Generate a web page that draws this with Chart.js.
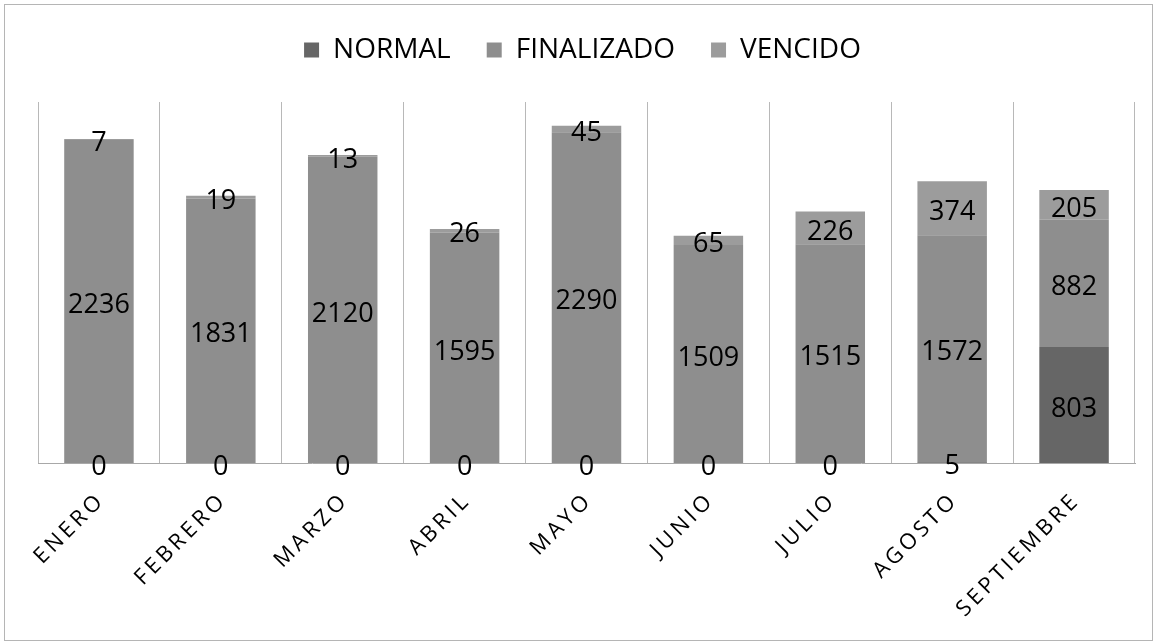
<!DOCTYPE html>
<html>
<head>
<meta charset="utf-8">
<script src="https://cdn.jsdelivr.net/npm/chart.js@4/dist/chart.umd.min.js"></script>
<style>
html,body{margin:0;padding:0;background:#fff;}
#costChart{position:absolute;left:0;top:0;}
#frame{position:absolute;left:4px;top:4px;width:1149px;height:637px;border:1px solid #b5b5b5;box-sizing:border-box;pointer-events:none;}
</style>
</head>
<body>
<canvas id="costChart" width="1159" height="644"></canvas>
<div id="frame"></div>
<script>
const months = ["ENERO","FEBRERO","MARZO","ABRIL","MAYO","JUNIO","JULIO","AGOSTO","SEPTIEMBRE"];
const normal = [0,0,0,0,0,0,0,5,803];
const finalizado = [2236,1831,2120,1595,2290,1509,1515,1572,882];
const vencido = [7,19,13,26,45,65,226,374,205];

const seriesNames = ["NORMAL","FINALIZADO","VENCIDO"];
const seriesColors = ["#666666","#8e8e8e","#9c9c9c"];

// etiquetas de valor dentro de cada segmento
const valueLabels = {
id:'valueLabels',
afterDatasetsDraw(chart){
const c = chart.ctx;
c.save();
c.font = '27px "Open Sans"';
c.fillStyle = '#000';
c.textAlign = 'center';
c.textBaseline = 'middle';
chart.data.datasets.forEach((ds,i)=>{
chart.getDatasetMeta(i).data.forEach((bar,j)=>{
const y = (bar.y + bar.base)/2 + 4;
c.fillText(String(ds.data[j]), bar.x, y);
});
});
c.restore();
}
};

// mas espacio entre la leyenda y las barras
const legendGap = {
id:'legendGap',
beforeInit(chart){
const fit = chart.legend.fit;
chart.legend.fit = function(){
fit.bind(chart.legend)();
this.height += 28;
};
}
};

const ctx = document.getElementById('costChart');

let chart = new Chart(ctx,{
type:'bar',
data:{
labels:months,
datasets:seriesNames.map((name,i)=>({
label:name,
data:[normal,finalizado,vencido][i],
backgroundColor:seriesColors[i],
categoryPercentage:1,
barPercentage:0.57
}))
},
options:{
responsive:false,
animation:false,
layout:{padding:{left:30,right:24,top:0,bottom:4}},
scales:{
x:{
stacked:true,
grid:{color:'#b8b8b8',lineWidth:1,drawTicks:false},
border:{color:'#a8a8a8'},
afterFit(scale){ scale.height = 644 - 4 - 463; },
ticks:{
color:'#000',
font:{family:'"Open Sans"',size:22},
maxRotation:45,minRotation:45,padding:27,
callback(v){ return this.getLabelForValue(v).split('').join('\u2009'); }
}
},
y:{
stacked:true,
min:0,max:2500,
ticks:{display:false},
grid:{display:false},
border:{display:false}
}
},
plugins:{
tooltip:{enabled:false},
legend:{
position:'top',
labels:{color:'#000',font:{family:'"Open Sans"',size:28},boxWidth:15,boxHeight:15,padding:36}
}
}
},
plugins:[valueLabels,legendGap]
});
</script>
</body>
</html>
